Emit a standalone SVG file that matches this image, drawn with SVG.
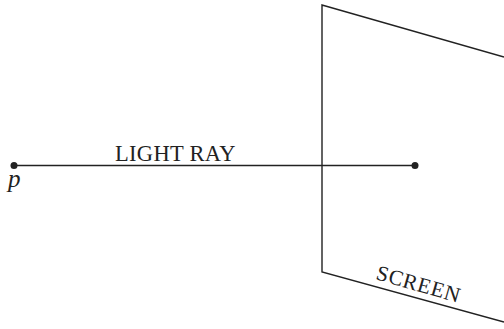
<svg xmlns="http://www.w3.org/2000/svg" width="504" height="329" viewBox="0 0 504 329">
<style>
.ln{stroke:#222;stroke-width:1.4;fill:none}
.dot{fill:#222}
.t{font-family:"Liberation Serif","Times New Roman",serif;fill:#222}
</style>
<rect width="504" height="329" fill="#fff"/>
<g id="screen">
<polyline class="ln" points="504,57 322,5 322,272 504,322"/>
<text class="t" x="375" y="279" font-size="21.5" letter-spacing="0.7" transform="rotate(16 375 279)">SCREEN</text>
</g>
<g id="connectors">
<line class="ln" x1="14" y1="165.5" x2="415" y2="165.5"/>
<text class="t" x="115" y="161" font-size="22.5" letter-spacing="0.3">LIGHT RAY</text>
</g>
<g id="p">
<circle class="dot" cx="14" cy="165.5" r="3.5"/>
<text class="t" x="8" y="187" font-size="25" font-style="italic">p</text>
</g>
<g id="end">
<circle class="dot" cx="415" cy="165.5" r="3.5"/>
</g>
</svg>
